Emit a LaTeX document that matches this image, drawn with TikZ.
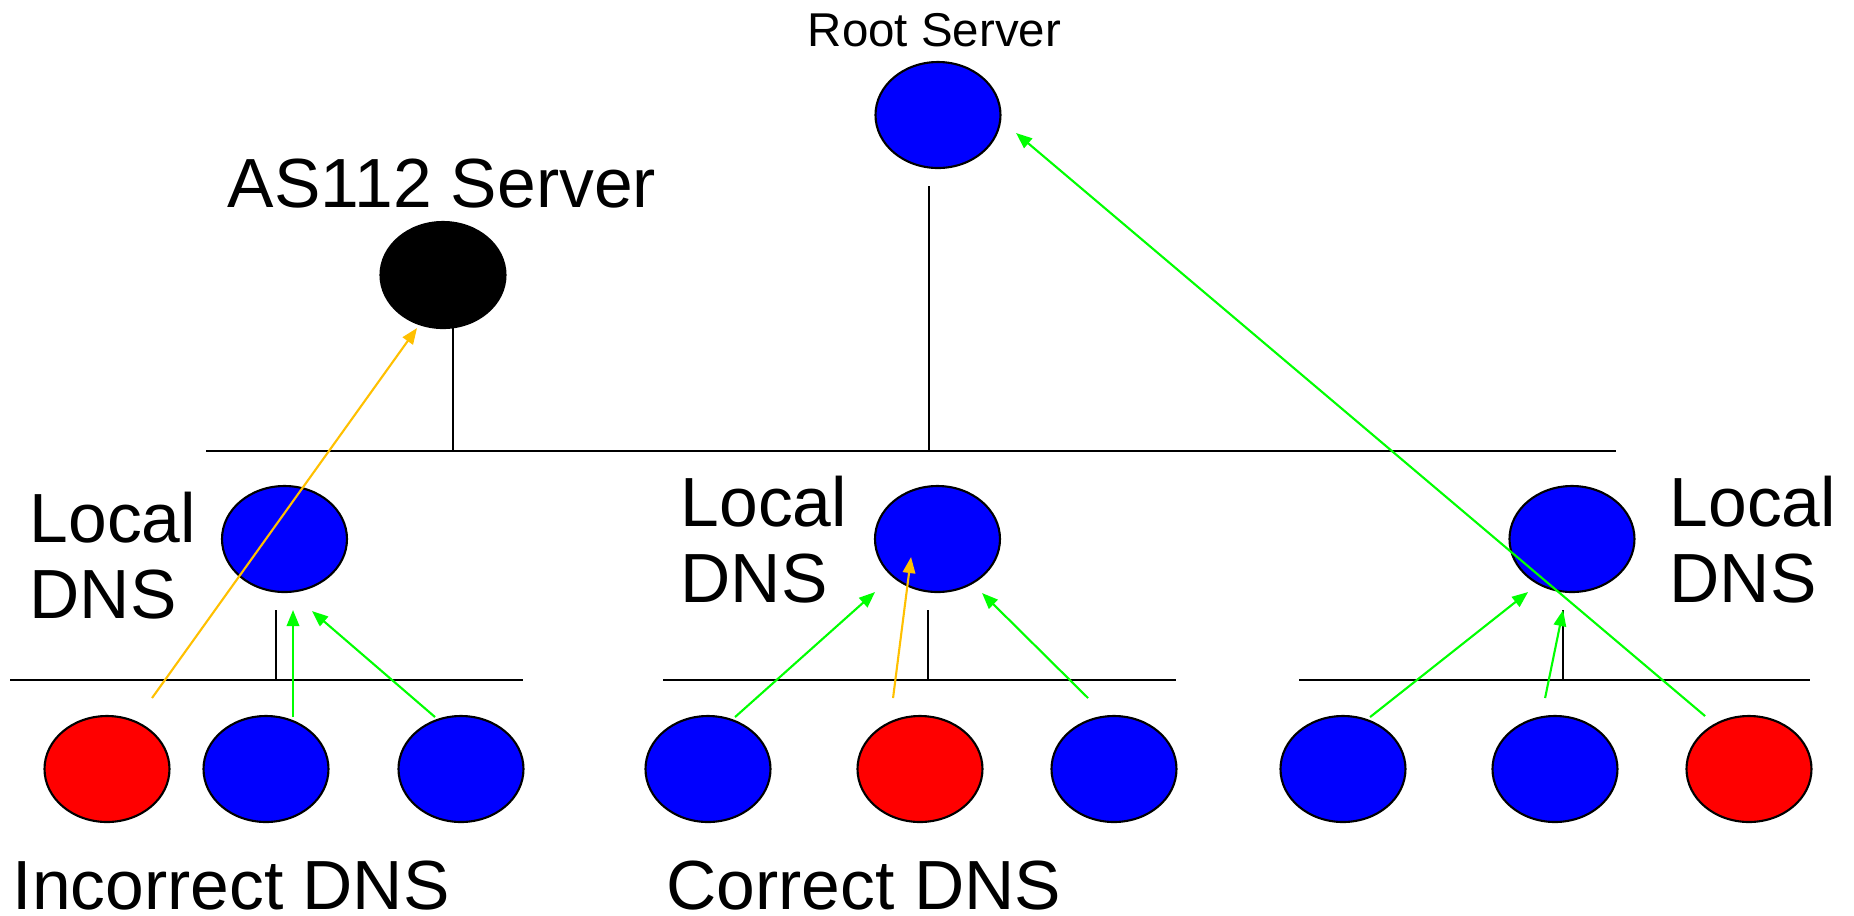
\documentclass[tikz,border=0pt]{standalone}
\usepackage{fontspec}
\setmainfont{Liberation Sans}
\usetikzlibrary{shapes.geometric,arrows.meta}
\definecolor{hostblue}{RGB}{0,0,255}
\definecolor{hostred}{RGB}{255,0,0}
\definecolor{askgreen}{RGB}{0,255,0}
\definecolor{askorange}{RGB}{255,192,0}

\begin{document}
\begin{tikzpicture}[scale=0.1]
            \tikzstyle{every node}+=[inner sep=0pt]
            \tikzstyle{host}=[ellipse, draw=black, line width=0.6pt, minimum width=1.25cm, minimum height=1.06cm]
            \tikzstyle{wire}=[black, line width=0.6pt]
            \tikzstyle{ask}=[line width=0.6pt, -{Triangle[length=1.6mm,width=1.25mm]}]
            \tikzstyle{big}=[font=\fontsize{19.8}{21.6}\selectfont]
            \useasboundingbox (0,0) rectangle (185.4,-91.5);
            % servers
            \node [host, fill=hostblue] (root) at (93.8,-11.5) {};
            \node [anchor=base, font=\fontsize{13.5}{16}\selectfont] (rootlbl) at (93.45,-4.6) {Root Server};
            \node [host, fill=black] (as112) at (44.3,-27.5) {};
            \node [big, anchor=base] (as112lbl) at (44.2,-20.7) {AS112 Server};
            % local resolvers
            \node [host, fill=hostblue] (ldnsL) at (28.45,-53.9) {};
            \node [host, fill=hostblue] (ldnsM) at (93.75,-53.9) {};
            \node [host, fill=hostblue] (ldnsR) at (157.2,-53.9) {};
            \node [big, anchor=base west, align=left] (ldnsLlbl) at (2.9,-61.8) {Local\\DNS};
            \node [big, anchor=base west, align=left] (ldnsMlbl) at (68.0,-60.2) {Local\\DNS};
            \node [big, anchor=base west, align=left] (ldnsRlbl) at (166.9,-60.2) {Local\\DNS};
            % clients
            \node [host, fill=hostred] (hL1) at (10.7,-76.9) {};
            \node [host, fill=hostblue] (hL2) at (26.6,-76.9) {};
            \node [host, fill=hostblue] (hL3) at (46.1,-76.9) {};
            \node [host, fill=hostblue] (hM1) at (70.8,-76.9) {};
            \node [host, fill=hostred] (hM2) at (92.0,-76.9) {};
            \node [host, fill=hostblue] (hM3) at (111.4,-76.9) {};
            \node [host, fill=hostblue] (hR1) at (134.3,-76.9) {};
            \node [host, fill=hostblue] (hR2) at (155.5,-76.9) {};
            \node [host, fill=hostred] (hR3) at (174.9,-76.9) {};
            \node [big, anchor=base west, text depth=0pt] (badlbl) at (1.2,-90.9) {Incorrect DNS};
            \node [big, anchor=base west, text depth=0pt] (goodlbl) at (66.6,-90.9) {Correct DNS};
            % wires
            \coordinate (topW) at (20.6,-45.1);
            \coordinate (topE) at (161.6,-45.1);
            \coordinate (as112drop) at (45.3,-32.8);
            \coordinate (rootdrop) at (92.9,-18.6);
            \draw [wire] (topW) -- (topE);
            \draw [wire] (as112drop) -- (as112drop |- topW);
            \draw [wire] (rootdrop) -- (rootdrop |- topW);
            \coordinate (busLW) at (1.0,-68.0);
            \coordinate (busLE) at (52.3,-68.0);
            \coordinate (busMW) at (66.3,-68.0);
            \coordinate (busME) at (117.6,-68.0);
            \coordinate (busRW) at (129.9,-68.0);
            \coordinate (busRE) at (181.0,-68.0);
            \coordinate (dropL) at (27.6,-61.0);
            \coordinate (dropM) at (92.8,-61.0);
            \coordinate (dropR) at (156.3,-61.0);
            \draw [wire] (busLW) -- (busLE);
            \draw [wire] (busMW) -- (busME);
            \draw [wire] (busRW) -- (busRE);
            \draw [wire] (dropL) -- (dropL |- busLW);
            \draw [wire] (dropM) -- (dropM |- busMW);
            \draw [wire] (dropR) -- (dropR |- busRW);
            % queries
            \coordinate (qL1) at (15.2,-69.8);
            \coordinate (qL2) at (29.3,-71.7);
            \coordinate (qL3) at (43.5,-71.7);
            \coordinate (qM1) at (73.5,-71.7);
            \coordinate (qM2) at (89.3,-69.8);
            \coordinate (qM3) at (108.8,-69.8);
            \coordinate (qR1) at (137.0,-71.7);
            \coordinate (qR2) at (154.5,-69.8);
            \coordinate (qR3) at (170.5,-71.6);
            \coordinate (tL1) at (41.7,-32.8);
            \coordinate (tL2) at (29.3,-61.0);
            \coordinate (tL3) at (31.2,-61.1);
            \coordinate (tM1) at (87.5,-59.2);
            \coordinate (tM2) at (91.1,-55.7);
            \coordinate (tM3) at (98.2,-59.3);
            \coordinate (tR1) at (152.8,-59.2);
            \coordinate (tR2) at (156.3,-61.0);
            \coordinate (tR3) at (101.6,-13.3);
            \draw [ask, askorange] (qL1) -- (tL1);
            \draw [ask, askgreen] (qL2) -- (tL2);
            \draw [ask, askgreen] (qL3) -- (tL3);
            \draw [ask, askgreen] (qM1) -- (tM1);
            \draw [ask, askorange] (qM2) -- (tM2);
            \draw [ask, askgreen] (qM3) -- (tM3);
            \draw [ask, askgreen] (qR1) -- (tR1);
            \draw [ask, askgreen] (qR2) -- (tR2);
            \draw [ask, askgreen] (qR3) -- (tR3);
        \end{tikzpicture}
\end{document}
